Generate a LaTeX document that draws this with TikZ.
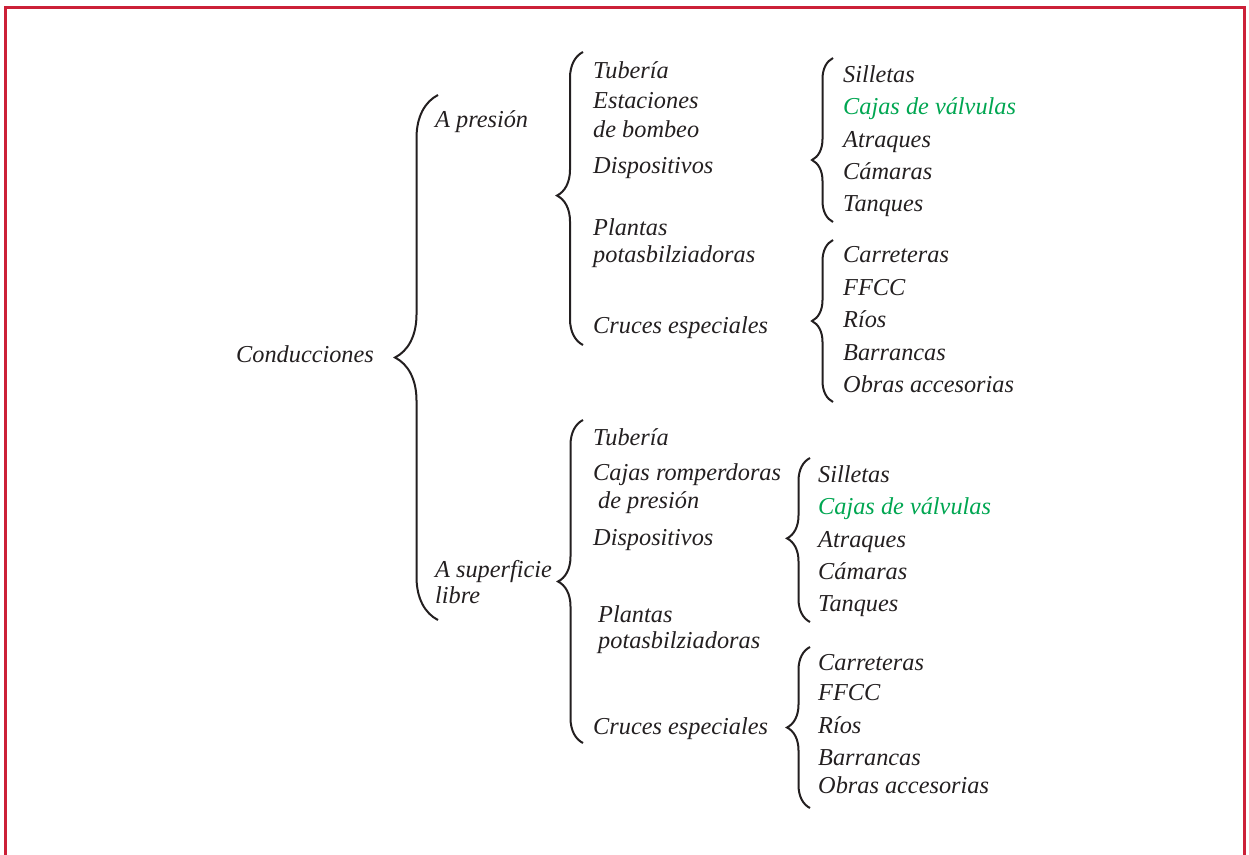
\documentclass[tikz,border=0pt]{standalone}
\usepackage{fontspec}
\setmainfont{Liberation Serif}
\usetikzlibrary{decorations.pathreplacing}
\definecolor{framered}{RGB}{204,32,56}
\definecolor{ink}{RGB}{35,31,32}
\definecolor{leafgreen}{RGB}{0,166,81}
\begin{document}
\begin{tikzpicture}[x=1pt,y=-1pt,
  lbl/.style={anchor=base west, inner sep=0pt, text=ink,
    font=\fontsize{24.3}{29}\selectfont\itshape},
  hl/.style={lbl, text=leafgreen},
  brc/.style 2 args={draw=ink, line width=2pt, decorate,
    decoration={brace, amplitude=#1, aspect=#2}},
  frame/.style={draw=framered, line width=3pt}]
\useasboundingbox (0,0) rectangle (1249,854);

% open red frame
\draw[frame] (5.5,870) -- (5.5,7.5) -- (1244.5,7.5) -- (1244.5,870);

% root
\node[lbl] (root) at (236,362) {Conducciones};

% first level
\node[lbl] (pres) at (435,127) {A presión};
\node[lbl] (sup1) at (435,577) {A superficie};
\node[lbl] (sup2) at (435,603) {libre};

% children of "A presión"
\node[lbl] (pTub)  at (593,78)  {Tubería};
\node[lbl] (pEst1) at (593,108) {Estaciones};
\node[lbl] (pEst2) at (593,137) {de bombeo};
\node[lbl] (pDis)  at (593,173) {Dispositivos};
\node[lbl] (pPla1) at (593,235) {Plantas};
\node[lbl] (pPla2) at (593,262) {potasbilziadoras};
\node[lbl] (pCru)  at (593,333) {Cruces especiales};

% children of "A superficie libre"
\node[lbl] (sTub)  at (593,445) {Tubería};
\node[lbl] (sCaj1) at (593,480) {Cajas romperdoras};
\node[lbl] (sCaj2) at (598,508) {de presión};
\node[lbl] (sDis)  at (593,545) {Dispositivos};
\node[lbl] (sPla1) at (598,622) {Plantas};
\node[lbl] (sPla2) at (598,648) {potasbilziadoras};
\node[lbl] (sCru)  at (593,734) {Cruces especiales};

% devices under pressure
\node[lbl] (pdSil) at (843,82)  {Silletas};
\node[hl]  (pdCaj) at (843,114) {Cajas de válvulas};
\node[lbl] (pdAtr) at (843,147) {Atraques};
\node[lbl] (pdCam) at (843,179) {Cámaras};
\node[lbl] (pdTan) at (843,211) {Tanques};

% special crossings under pressure
\node[lbl] (pcCar) at (843,262) {Carreteras};
\node[lbl] (pcFFC) at (843,295) {FFCC};
\node[lbl] (pcRio) at (843,327) {Ríos};
\node[lbl] (pcBar) at (843,360) {Barrancas};
\node[lbl] (pcObr) at (843,392) {Obras accesorias};

% devices, free surface
\node[lbl] (sdSil) at (818,482) {Silletas};
\node[hl]  (sdCaj) at (818,514) {Cajas de válvulas};
\node[lbl] (sdAtr) at (818,547) {Atraques};
\node[lbl] (sdCam) at (818,579) {Cámaras};
\node[lbl] (sdTan) at (818,611) {Tanques};

% special crossings, free surface
\node[lbl] (scCar) at (818,670) {Carreteras};
\node[lbl] (scFFC) at (818,700) {FFCC};
\node[lbl] (scRio) at (818,733) {Ríos};
\node[lbl] (scBar) at (818,765) {Barrancas};
\node[lbl] (scObr) at (818,793) {Obras accesorias};

% brace end points
\coordinate (b0t) at (438,95);  \coordinate (b0b) at (438,620);
\coordinate (b1t) at (583,52);  \coordinate (b1b) at (583,345);
\coordinate (b2t) at (583,420); \coordinate (b2b) at (583,743);
\coordinate (b3t) at (833,58);  \coordinate (b3b) at (833,222);
\coordinate (b4t) at (833,240); \coordinate (b4b) at (833,402);
\coordinate (b5t) at (810,458); \coordinate (b5b) at (810,622);
\coordinate (b6t) at (810,647); \coordinate (b6b) at (810,808);

% braces (drawn bottom to top so the tip points left)
\draw[brc={43pt}{0.5}]   (b0b) -- (b0t);
\draw[brc={26pt}{0.51}]  (b1b) -- (b1t);
\draw[brc={25pt}{0.5}]   (b2b) -- (b2t);
\draw[brc={21pt}{0.378}] (b3b) -- (b3t);
\draw[brc={21pt}{0.5}]   (b4b) -- (b4t);
\draw[brc={23pt}{0.51}]  (b5b) -- (b5t);
\draw[brc={23pt}{0.5}]   (b6b) -- (b6t);
\end{tikzpicture}
\end{document}
